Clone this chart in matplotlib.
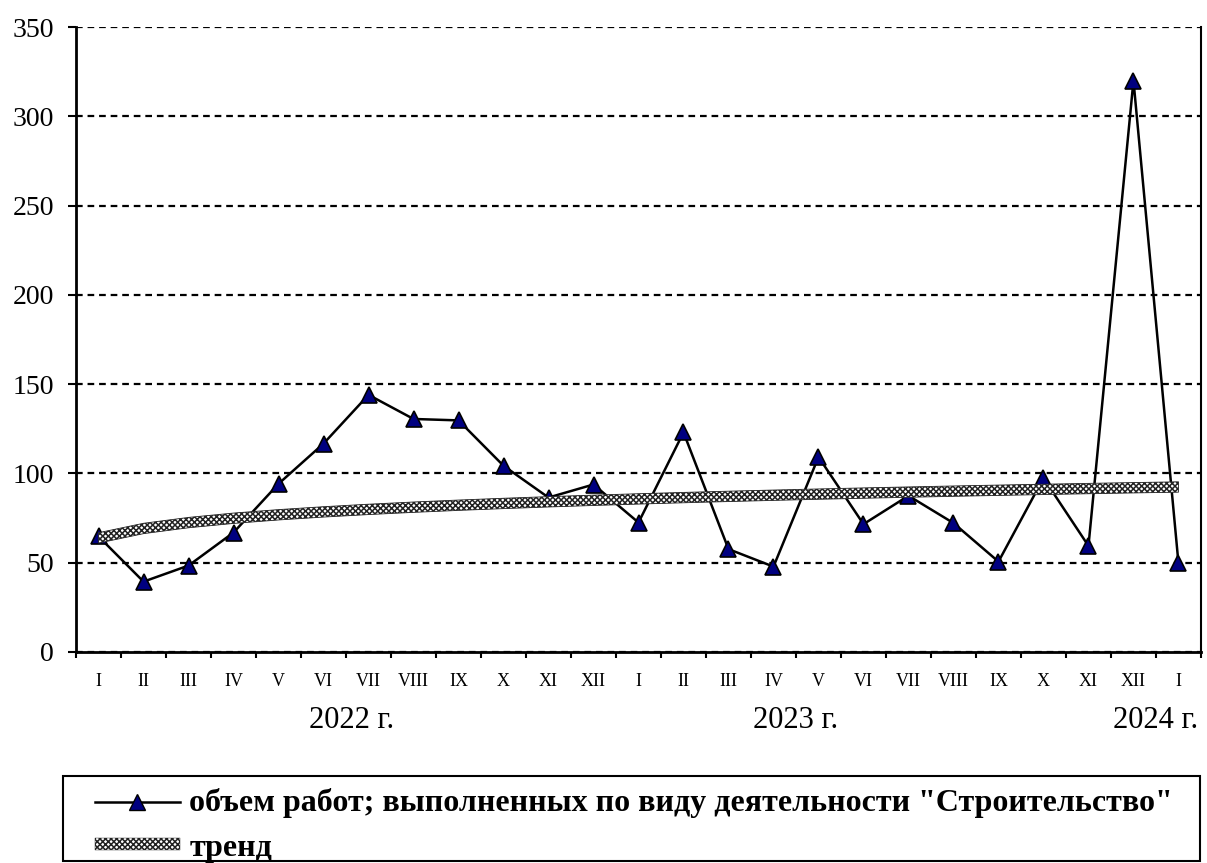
import numpy as np
import matplotlib.pyplot as plt
from matplotlib.lines import Line2D
from matplotlib.patches import Patch, Rectangle
from matplotlib.transforms import blended_transform_factory

plt.rcParams['font.family'] = ['Liberation Serif', 'DejaVu Serif']
plt.rcParams['hatch.linewidth'] = 1.1

# months Jan 2022 .. Jan 2024
months = ['I', 'II', 'III', 'IV', 'V', 'VI', 'VII', 'VIII', 'IX', 'X', 'XI', 'XII',
          'I', 'II', 'III', 'IV', 'V', 'VI', 'VII', 'VIII', 'IX', 'X', 'XI', 'XII',
          'I']
volume = [64.7, 39.4, 48.4, 66.9, 94.2, 116.7, 144.0, 130.5, 129.7, 104.3, 86.5, 93.8,
          72.5, 123.0, 57.6, 47.8, 109.2, 71.6, 87.5, 72.2, 50.6, 97.4, 59.4, 320.0,
          49.7]
years = ['2022 г.', '2023 г.', '2024 г.']
year_pos = [5.62, 15.5, 23.5]

series_label = 'объем работ; выполненных по виду деятельности "Строительство"'
trend_label = 'тренд'

x = np.arange(len(volume))
# power trend (like Excel): ln y = b ln t + ln a, t = 1..n
t = x + 1
b, lna = np.polyfit(np.log(t), np.log(volume), 1)
trend = np.exp(lna) * t ** b

fig = plt.figure(figsize=(12.07, 8.63), dpi=100)
ax = fig.add_axes([0.063, 0.2445, 0.932, 0.7242])

ax.plot(x, volume, color='black', lw=1.8, marker='^', markersize=12,
        markerfacecolor='#000080', markeredgecolor='black', markeredgewidth=1.2, zorder=3)

# hatched trend band
half = 2.9
ax.fill_between(x, trend - half, trend + half, facecolor='white', edgecolor='#222222',
                hatch='xxxxxx', lw=0.6, zorder=4)

ax.set_xlim(-0.5, len(volume) - 0.5)
ax.set_ylim(0, 350)
ax.set_yticks(np.arange(0, 351, 50))
ax.yaxis.grid(True, color='black', lw=1.6, linestyle=(0, (3, 2.2)))
ax.set_axisbelow(True)

ax.set_xticks(np.arange(-0.5, len(volume), 1))
ax.set_xticklabels([])
ax.set_xticks(x, minor=True)
ax.set_xticklabels(months, minor=True, fontsize=13)
ax.tick_params(axis='x', which='major', direction='out', length=4, width=1.5)
ax.tick_params(axis='x', which='minor', length=0, pad=15)
ax.tick_params(axis='y', direction='out', length=6, width=1.5, labelsize=20, pad=10)

ax.spines['top'].set_visible(False)
ax.spines['left'].set_linewidth(2)
ax.spines['bottom'].set_linewidth(2)
ax.spines['right'].set_linewidth(1.5)

tr = blended_transform_factory(ax.transData, ax.transAxes)
for label, pos in zip(years, year_pos):
    ax.text(pos, -0.1216, label, transform=tr, ha='center', va='baseline', fontsize=22)

# legend frame
fig.patches.append(Rectangle((63 / 1207, 1 - 861 / 863), (1200 - 63) / 1207, 85 / 863,
                             transform=fig.transFigure, facecolor='none',
                             edgecolor='black', lw=1.5))

handles = [
    Line2D([], [], color='black', lw=1.8, marker='^', markersize=12,
           markerfacecolor='#000080', markeredgecolor='black'),
    Patch(facecolor='white', edgecolor='#222222', hatch='xxxxxx', lw=0.3),
]
leg = fig.legend(handles, [series_label, trend_label],
                 loc='upper left', bbox_to_anchor=(85 / 1207, 1 - 778 / 863),
                 borderaxespad=0, frameon=False,
                 prop={'weight': 'bold', 'size': 23}, handlelength=2.66, handleheight=0.2,
                 handletextpad=0.31, labelspacing=0.5, borderpad=0.3)

fig.savefig('out.png', dpi=100)
